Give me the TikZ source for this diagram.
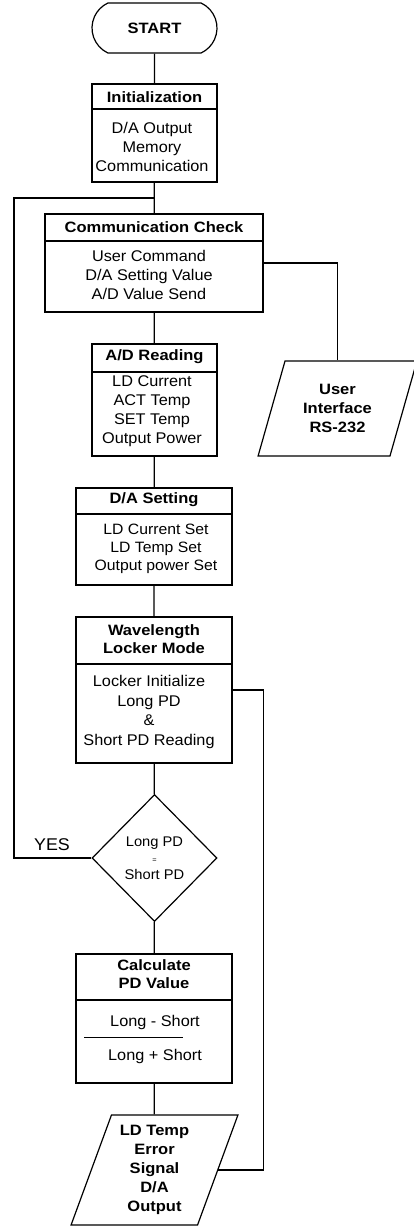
\documentclass[tikz,border=0pt]{standalone}
\usepackage{fontspec}
\setmainfont{Liberation Sans}[FakeStretch=1.05]
\newfontfamily\headfont{Liberation Sans}[FakeStretch=1.1]
\usetikzlibrary{positioning, shapes.geometric, shapes.misc}
\tikzset{
  flow/.style={draw, line width=1.2pt},
  procbox/.style={rectangle, draw, line width=1.2pt, inner sep=0pt},
  head/.style={font=\headfont\bfseries\fontsize{15}{18}\selectfont, align=center, inner sep=0pt},
  body/.style={font=\fontsize{15.5}{19}\selectfont, align=center, inner sep=0pt},
  terminal/.style={
    rounded rectangle, rounded rectangle arc length=130, draw, line width=1.2pt,
    minimum width=125, minimum height=50, inner sep=0pt,
    font=\headfont\bfseries\fontsize{15}{18}\selectfont
  },
  io/.style={
    trapezium, trapezium left angle=70, trapezium right angle=110,
    trapezium stretches=true, draw, line width=1.2pt, inner sep=0pt, align=center,
    font=\headfont\bfseries\fontsize{15}{19}\selectfont
  },
  decision/.style={
    diamond, draw, line width=1.2pt, inner sep=0pt, align=center,
    font=\fontsize{14}{16.5}\selectfont
  },
}

\begin{document}
\begin{tikzpicture}[x=1pt, y=-1pt]
  \useasboundingbox (0,0) rectangle (414,1227);

  \node[terminal] (start) at (154.5,28) {START};

  % initialization
  \node[procbox, minimum width=125, minimum height=98] (init) at (154.5,133) {};
  \draw[flow] (init.west |- 0,109) -- (init.east |- 0,109);
  \node[head] (init-h) at (154.5,97) {Initialization};
  \node[body] (init-b) at (152,146.5) {D/A Output\\Memory\\Communication};

  % communication check
  \node[procbox, minimum width=218, minimum height=98] (cc) at (154,263) {};
  \draw[flow] (cc.west |- 0,241) -- (cc.east |- 0,241);
  \node[head] (cc-h) at (154,227) {Communication Check};
  \node[body] (cc-b) at (149,275) {User Command\\D/A Setting Value\\A/D Value Send};

  % A/D reading
  \node[procbox, minimum width=125, minimum height=112] (ad) at (154.5,400) {};
  \draw[flow] (ad.west |- 0,372) -- (ad.east |- 0,372);
  \node[head] (ad-h) at (154.5,357) {A/D Reading};
  \node[body] (ad-b) at (152,411.5) {LD Current\\ACT Temp\\SET Temp\\Output Power};

  % D/A setting
  \node[procbox, minimum width=156, minimum height=97] (da) at (154,536.5) {};
  \draw[flow] (da.west |- 0,514) -- (da.east |- 0,514);
  \node[head] (da-h) at (154,500) {D/A Setting};
  \node[body, font=\fontsize{15}{18}\selectfont] (da-b) at (156,549) {LD Current Set\\LD Temp Set\\Output power Set};

  % wavelength locker
  \node[procbox, minimum width=156, minimum height=146] (wl) at (154,690) {};
  \draw[flow] (wl.west |- 0,664) -- (wl.east |- 0,664);
  \node[head] (wl-h) at (154,639) {Wavelength\\Locker Mode};
  \node[body, font=\fontsize{15.5}{19.7}\selectfont] (wl-b) at (149,712) {Locker Initialize\\Long PD\\\&\\Short PD Reading};

  \node[decision, minimum width=125, minimum height=127] (dec) at (154.5,858) {Long PD\\{\scriptsize =}\\Short PD};
  \node[body, font=\fontsize{17}{19}\selectfont] (yes) at (52,845) {YES};

  % PD value
  \node[procbox, minimum width=156, minimum height=129] (calc) at (154,1018.5) {};
  \draw[flow] (calc.west |- 0,1000) -- (calc.east |- 0,1000);
  \node[head] (calc-h) at (154,974.5) {Calculate\\PD Value};
  \node[body] (calc-n) at (155,1022) {Long - Short};
  \draw[line width=1pt] (84,1037) -- (183,1037);
  \node[body] (calc-d) at (155,1056) {Long + Short};

  \node[io, minimum width=167, minimum height=110] (ld) at (154.5,1170) {LD Temp\\Error\\Signal\\D/A\\Output};
  \node[io, minimum width=159, minimum height=95] (ui) at (337.5,408.5) {User\\Interface\\RS-232};

  \draw[flow] (start) -- (init)
              (init) -- (cc)
              (cc) -- (ad)
              (ad) -- (da)
              (da) -- (wl)
              (wl) -- (dec)
              (dec) -- (calc)
              (calc) -- (ld);
  \coordinate (back) at (14,198);
  \draw[flow] (dec.west) -| (back) -- (init.south |- back);
  \draw[flow] (cc.east) -| (ui.north);
  \draw[flow] (wl.east) -- ++(31,0) |- (ld.east);
\end{tikzpicture}
\end{document}
